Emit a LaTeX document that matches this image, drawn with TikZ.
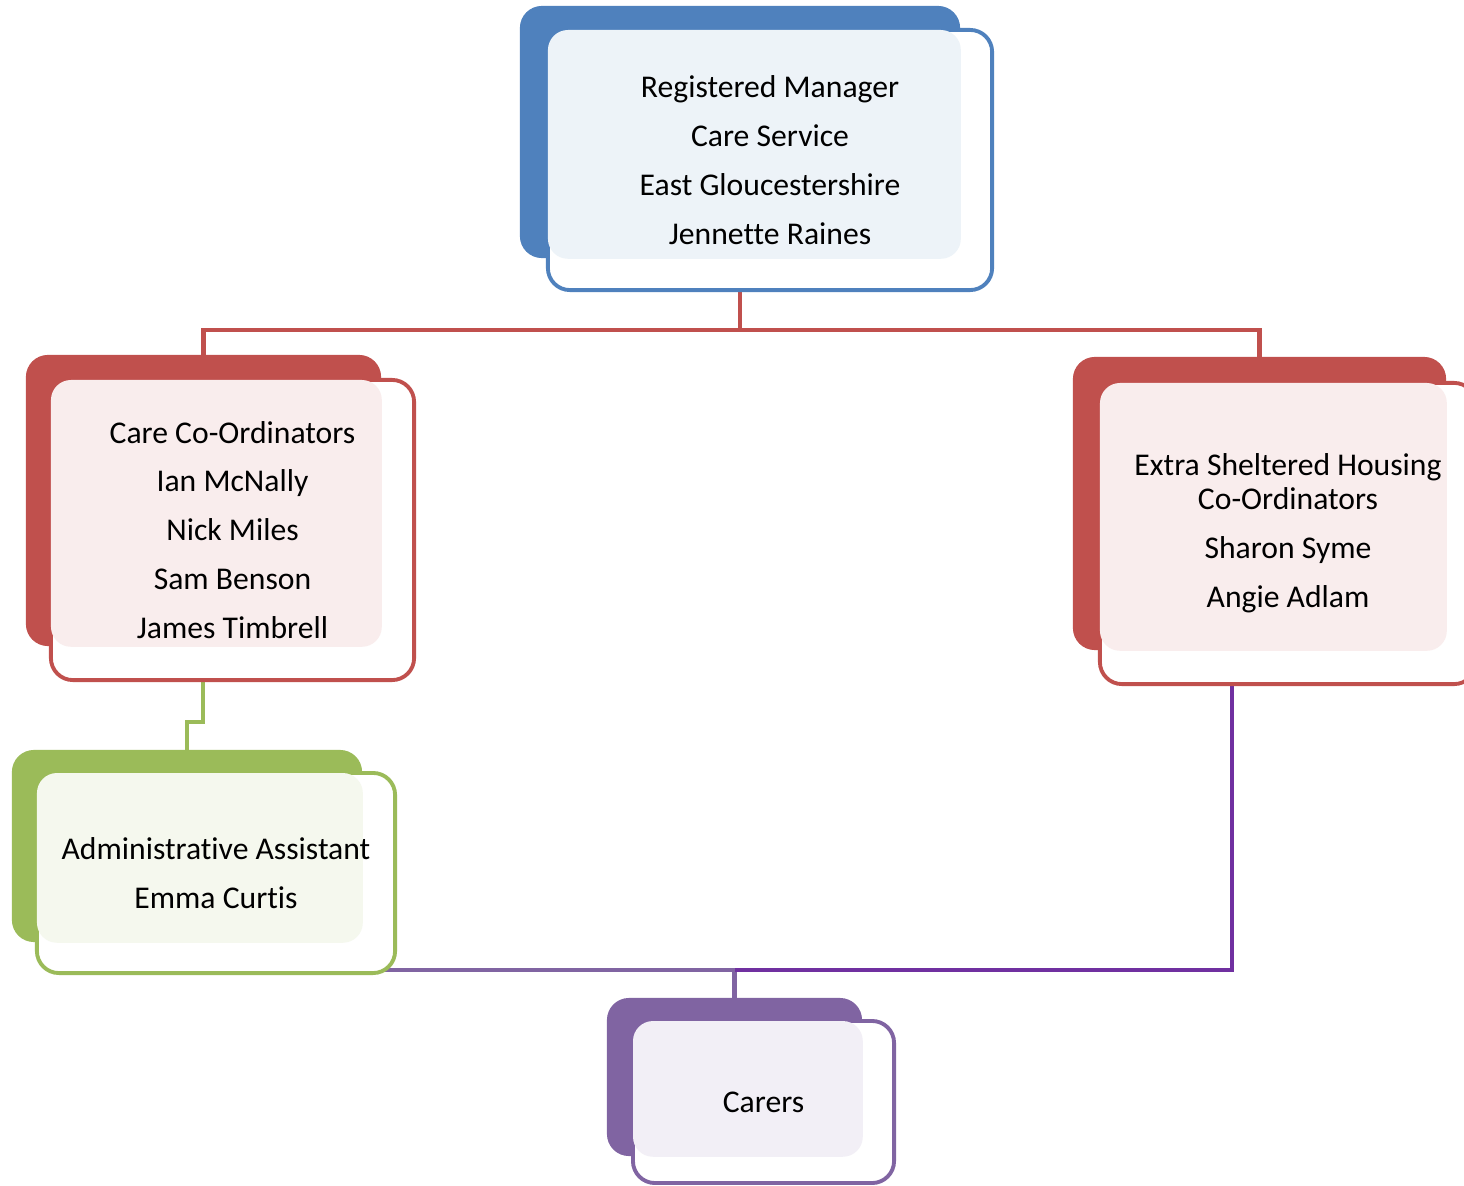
\documentclass[tikz,border=0pt]{standalone}
\usepackage{fontspec}
\setmainfont{Carlito}[Ligatures=NoCommon]
\usetikzlibrary{positioning, calc}
\definecolor{mgrblue}{HTML}{4F81BD}
\definecolor{coordred}{HTML}{C0504D}
\definecolor{admingreen}{HTML}{9BBB59}
\definecolor{carerpurple}{HTML}{8064A2}
\definecolor{linkpurple}{HTML}{7030A0}

\begin{document}
\begin{tikzpicture}[x=0.01cm, y=-0.01cm,
        every node/.style={inner sep=0pt},
        back/.style={fill=#1, rounded corners=0.22cm},
        frame/.style={draw=#1, fill=white, line width=1.1pt, rounded corners=0.22cm},
        label/.style={align=center, font=\fontsize{9}{13.9}\selectfont},
        link/.style={draw=#1, line width=1.4pt}]
        \useasboundingbox (0,0) rectangle (1464,1185);

        % Split points of the connectors
        \coordinate (mgrsplit) at (740,330);
        \coordinate (ccstep) at (203,722);
        \coordinate (carersjoin) at (734.5,970);
        \coordinate (eshout) at (1232,600);

        % Connectors
        \draw[link=coordred] (740,132) -- (mgrsplit) -| (203.5,400);
        \draw[link=coordred] (mgrsplit) -| (1259.5,400);
        \draw[link=admingreen] (203,500) -- (ccstep) -| (187,800);
        \draw[link=carerpurple] (187,846) |- (carersjoin) -- (734.5,1050);
        \draw[link=linkpurple] (eshout) |- (carersjoin);

        % Registered manager
        \node[back=mgrblue, minimum width=4.4cm, minimum height=2.52cm] (mgrback) at (740,132) {};
        \node[frame=mgrblue, minimum width=4.44cm, minimum height=2.6cm] (mgr) at (770,160) {};
        \fill[mgrblue!10, rounded corners=0.2cm] ($(mgr.north west)+(2,2)$) rectangle (mgrback.south east);
        \node[label] (mgrtext) at (mgr) {Registered Manager\\Care Service\\East Gloucestershire\\Jennette Raines};

        % Care co-ordinators
        \node[back=coordred, minimum width=3.55cm, minimum height=2.91cm] (ccback) at (203.5,500.5) {};
        \node[frame=coordred, minimum width=3.63cm, minimum height=3cm] (cc) at (232.5,530) {};
        \fill[coordred!10, rounded corners=0.2cm] ($(cc.north west)+(2,2)$) rectangle (ccback.south east);
        \node[label] (cctext) at (cc) {Care Co-Ordinators\\Ian McNally\\Nick Miles\\Sam Benson\\James Timbrell};

        % Extra sheltered housing co-ordinators
        \node[back=coordred, minimum width=3.73cm, minimum height=2.93cm] (eshback) at (1259.5,503.5) {};
        \node[frame=coordred, minimum width=3.76cm, minimum height=3.01cm] (esh) at (1288,533.5) {};
        \fill[coordred!10, rounded corners=0.2cm] ($(esh.north west)+(2,2)$) rectangle (eshback.south east);
        \node[label] (eshtext) at (esh) {Extra Sheltered Housing\\[-4.2pt]Co-Ordinators\\Sharon Syme\\Angie Adlam};

        % Administrative assistant
        \node[back=admingreen, minimum width=3.5cm, minimum height=1.92cm] (adminback) at (187,846) {};
        \node[frame=admingreen, minimum width=3.58cm, minimum height=2cm] (admin) at (216,873) {};
        \fill[admingreen!10, rounded corners=0.2cm] ($(admin.north west)+(2,2)$) rectangle (adminback.south east);
        \node[label] (admintext) at (admin) {Administrative Assistant\\Emma Curtis};

        % Carers
        \node[back=carerpurple, minimum width=2.55cm, minimum height=1.58cm] (carersback) at (734.5,1077) {};
        \node[frame=carerpurple, minimum width=2.61cm, minimum height=1.62cm] (carers) at (763.5,1102) {};
        \fill[carerpurple!10, rounded corners=0.2cm] ($(carers.north west)+(2,2)$) rectangle (carersback.south east);
        \node[label] (carerstext) at (carers) {Carers};
\end{tikzpicture}
\end{document}
